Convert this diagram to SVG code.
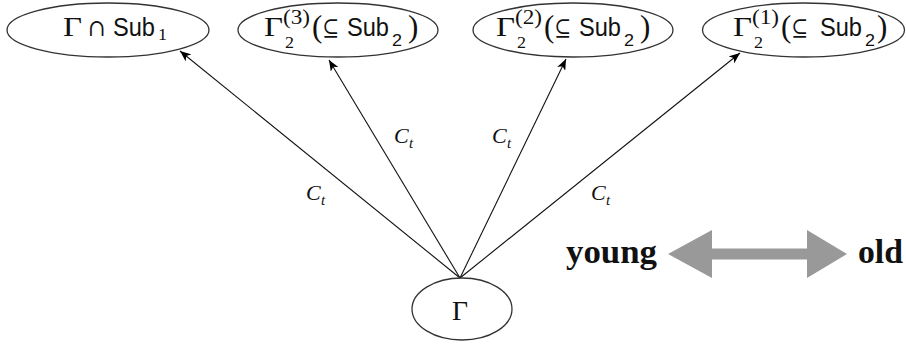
<svg xmlns="http://www.w3.org/2000/svg" width="906" height="347" viewBox="0 0 906 347">
<defs>
<style>
.node ellipse{fill:#fff;stroke:#333;stroke-width:1.3}
.m{font-family:"Liberation Serif","DejaVu Serif",serif;font-size:28px;fill:#111}
.p{font-family:"Liberation Serif","DejaVu Serif",serif;font-size:31px;fill:#111}
.sym{font-family:"DejaVu Serif","Liberation Serif",serif;font-size:24px;fill:#111}
.sf{font-family:"Liberation Sans",sans-serif;font-size:26px;fill:#111}
.sup{font-family:"Liberation Serif",serif;font-size:20px;fill:#111}
.sb{font-family:"Liberation Serif",serif;font-size:16px;fill:#111}
.sbs{font-family:"Liberation Sans",sans-serif;font-size:17px;fill:#111}
.lbl{font-family:"Liberation Serif",serif;font-style:italic;font-size:22px;fill:#111}
.lbls{font-family:"Liberation Serif",serif;font-style:italic;font-size:15px;fill:#111}
.bold{font-family:"Liberation Serif",serif;font-weight:bold;font-size:34px;fill:#111}
#edges line{stroke:#111;stroke-width:1.1}
</style>
<marker id="ah" markerWidth="12" markerHeight="9" refX="11" refY="4.5" orient="auto" markerUnits="userSpaceOnUse">
<path d="M0,0 L11,4.5 L0,9 L3,4.5 z" fill="#000"/>
</marker>
</defs>

<g id="edges">
<line x1="460" y1="278" x2="180" y2="51" marker-end="url(#ah)"/>
<line x1="460" y1="278" x2="329" y2="60" marker-end="url(#ah)"/>
<line x1="460" y1="278" x2="566" y2="59" marker-end="url(#ah)"/>
<line x1="460" y1="278" x2="740" y2="53" marker-end="url(#ah)"/>
<text class="lbl" x="394" y="143">C</text><text class="lbls" x="409" y="148">t</text>
<text class="lbl" x="492" y="143">C</text><text class="lbls" x="507" y="148">t</text>
<text class="lbl" x="306" y="200">C</text><text class="lbls" x="321" y="205">t</text>
<text class="lbl" x="591" y="200">C</text><text class="lbls" x="606" y="205">t</text>
</g>

<g id="n1" class="node">
<ellipse cx="108" cy="30" rx="101" ry="27"/>
<text class="m" x="63" y="36" textLength="19" lengthAdjust="spacingAndGlyphs">Γ</text>
<text class="sym" x="88" y="36" textLength="18" lengthAdjust="spacingAndGlyphs">∩</text>
<text class="sf" x="113" y="36" textLength="42" lengthAdjust="spacingAndGlyphs">Sub</text>
<text class="sb" x="158" y="40" textLength="9" lengthAdjust="spacingAndGlyphs">1</text>
</g>

<g id="n2" class="node">
<ellipse cx="338" cy="30" rx="100" ry="27"/>
<text class="m" x="264" y="36" textLength="19" lengthAdjust="spacingAndGlyphs">Γ</text>
<text class="sup" x="283" y="24" textLength="27" lengthAdjust="spacingAndGlyphs">(3)</text>
<text class="sb" x="285" y="48" textLength="9" lengthAdjust="spacingAndGlyphs">2</text>
<text class="p" x="312" y="37">(</text>
<text class="sym" x="322" y="36" textLength="17" lengthAdjust="spacingAndGlyphs">⊆</text>
<text class="sf" x="347" y="36" textLength="42" lengthAdjust="spacingAndGlyphs">Sub</text>
<text class="sbs" x="392" y="46" textLength="10" lengthAdjust="spacingAndGlyphs">2</text>
<text class="p" x="408" y="37">)</text>
</g>

<g id="n3" class="node">
<ellipse cx="573" cy="30" rx="100" ry="27"/>
<text class="m" x="496" y="36" textLength="19" lengthAdjust="spacingAndGlyphs">Γ</text>
<text class="sup" x="515" y="24" textLength="27" lengthAdjust="spacingAndGlyphs">(2)</text>
<text class="sb" x="517" y="48" textLength="9" lengthAdjust="spacingAndGlyphs">2</text>
<text class="p" x="544" y="37">(</text>
<text class="sym" x="554" y="36" textLength="17" lengthAdjust="spacingAndGlyphs">⊆</text>
<text class="sf" x="579" y="36" textLength="42" lengthAdjust="spacingAndGlyphs">Sub</text>
<text class="sbs" x="624" y="46" textLength="10" lengthAdjust="spacingAndGlyphs">2</text>
<text class="p" x="640" y="37">)</text>
</g>

<g id="n4" class="node">
<ellipse cx="803.5" cy="30" rx="101" ry="27"/>
<text class="m" x="733" y="36" textLength="19" lengthAdjust="spacingAndGlyphs">Γ</text>
<text class="sup" x="752" y="24" textLength="27" lengthAdjust="spacingAndGlyphs">(1)</text>
<text class="sb" x="754" y="48" textLength="9" lengthAdjust="spacingAndGlyphs">2</text>
<text class="p" x="781" y="37">(</text>
<text class="sym" x="791" y="36" textLength="17" lengthAdjust="spacingAndGlyphs">⊆</text>
<text class="sf" x="820" y="36" textLength="42" lengthAdjust="spacingAndGlyphs">Sub</text>
<text class="sbs" x="865" y="46" textLength="10" lengthAdjust="spacingAndGlyphs">2</text>
<text class="p" x="877" y="37">)</text>
</g>

<g id="n0" class="node">
<ellipse cx="462" cy="309" rx="50" ry="31"/>
<text class="m" x="452" y="320" textLength="16" lengthAdjust="spacingAndGlyphs">Γ</text>
</g>

<g id="legend">
<text class="bold" x="566" y="263" textLength="91" lengthAdjust="spacingAndGlyphs">young</text>
<polygon points="668,254 712,230 712,248.5 807,248.5 807,230 847,254 807,278 807,259.5 712,259.5 712,278" fill="#999"/>
<text class="bold" x="858" y="263" textLength="45" lengthAdjust="spacingAndGlyphs">old</text>
</g>
</svg>
